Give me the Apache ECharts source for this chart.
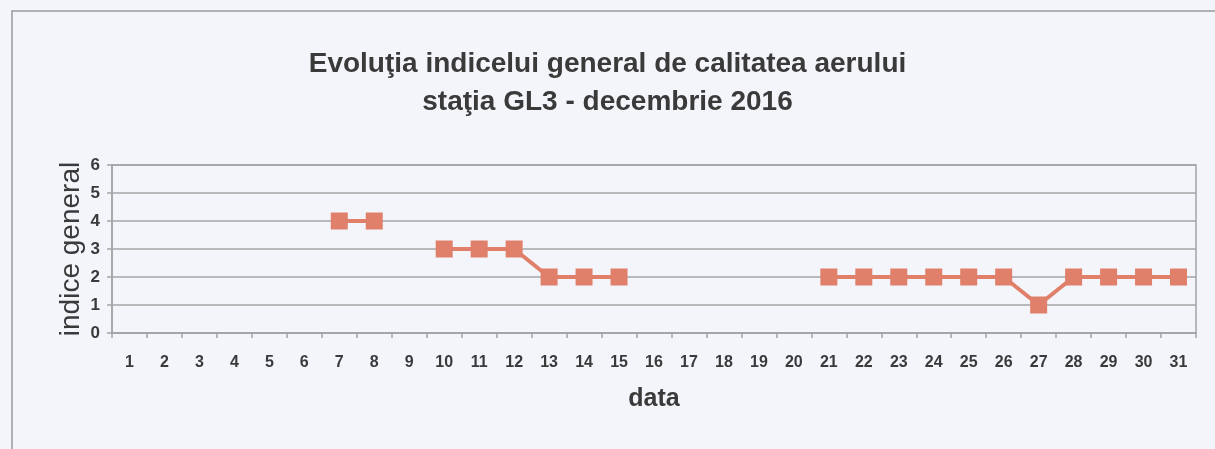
<!DOCTYPE html>
<html>
<head>
<meta charset="utf-8">
<script src="https://cdn.jsdelivr.net/npm/echarts@6/dist/echarts.min.js"></script>
<style>
  html, body { margin: 0; padding: 0; background: #f3f5fb; }
  #chart { width: 1215px; height: 449px; }
</style>
</head>
<body>
<div id="chart"></div>
<script>
const titleLines = ['Evoluţia indicelui general de calitatea aerului', 'staţia GL3 - decembrie 2016'];
const days = ['1','2','3','4','5','6','7','8','9','10','11','12','13','14','15','16','17','18','19','20','21','22','23','24','25','26','27','28','29','30','31'];
const indiceGeneral = [null,null,null,null,null,null,4,4,null,3,3,3,2,2,2,null,null,null,null,null,2,2,2,2,2,2,1,2,2,2,2];
const yTicks = [0,1,2,3,4,5,6];
const xAxisName = 'data';
const yAxisName = 'indice general';

const chart = echarts.init(document.getElementById('chart'), null, { renderer: 'canvas' });
const textColor = '#3a3a3a';
const gridColor = '#a4a4a4';
chart.setOption({
  backgroundColor: '#f3f5fb',
  animation: false,
  title: {
    text: titleLines.join('\n'),
    left: 'center',
    top: 40,
    textStyle: {
      fontFamily: 'Liberation Sans, Arial, sans-serif',
      fontWeight: 'bold',
      fontSize: 28,
      lineHeight: 38,
      color: textColor
    }
  },
  graphic: [{
    type: 'rect',
    shape: { x: 12, y: 11, width: 1300, height: 600 },
    style: { fill: 'none', stroke: '#9a9a9a', lineWidth: 1.5 },
    silent: true
  }],
  grid: {
    left: 112, right: 19, top: 165, height: 168,
    show: true, borderColor: gridColor, borderWidth: 1.5, backgroundColor: 'transparent'
  },
  xAxis: {
    type: 'category',
    data: days,
    boundaryGap: true,
    name: xAxisName,
    nameLocation: 'middle',
    nameGap: 54,
    nameTextStyle: { fontFamily: 'Liberation Sans, Arial, sans-serif', fontWeight: 'bold', fontSize: 25, color: textColor },
    axisLine: { show: true, lineStyle: { color: gridColor, width: 1.5 } },
    axisTick: { show: true, interval: 0, alignWithLabel: false, length: 5, lineStyle: { color: gridColor, width: 1.5 } },
    axisLabel: { interval: 0, margin: 22, fontFamily: 'Liberation Sans, Arial, sans-serif', fontWeight: 'bold', fontSize: 16, color: textColor },
    splitLine: { show: false }
  },
  yAxis: {
    type: 'value',
    min: yTicks[0],
    max: yTicks[yTicks.length - 1],
    interval: 1,
    name: yAxisName,
    nameLocation: 'middle',
    nameRotate: 90,
    nameGap: 27,
    nameMoveOverlap: false,
    nameTextStyle: { fontFamily: 'Liberation Sans, Arial, sans-serif', fontSize: 28, color: textColor },
    axisLine: { show: true, lineStyle: { color: gridColor, width: 1.5 } },
    axisTick: { show: true, length: 5, lineStyle: { color: gridColor, width: 1.5 } },
    axisLabel: { margin: 12, fontFamily: 'Liberation Sans, Arial, sans-serif', fontWeight: 'bold', fontSize: 17, color: textColor },
    splitLine: { show: true, lineStyle: { color: gridColor, width: 1.5 } }
  },
  series: [{
    type: 'line',
    data: indiceGeneral,
    connectNulls: false,
    symbol: 'rect',
    symbolSize: 17,
    showSymbol: true,
    lineStyle: { color: '#e0806a', width: 4 },
    itemStyle: { color: '#e0806a' }
  }]
});
</script>
</body>
</html>
